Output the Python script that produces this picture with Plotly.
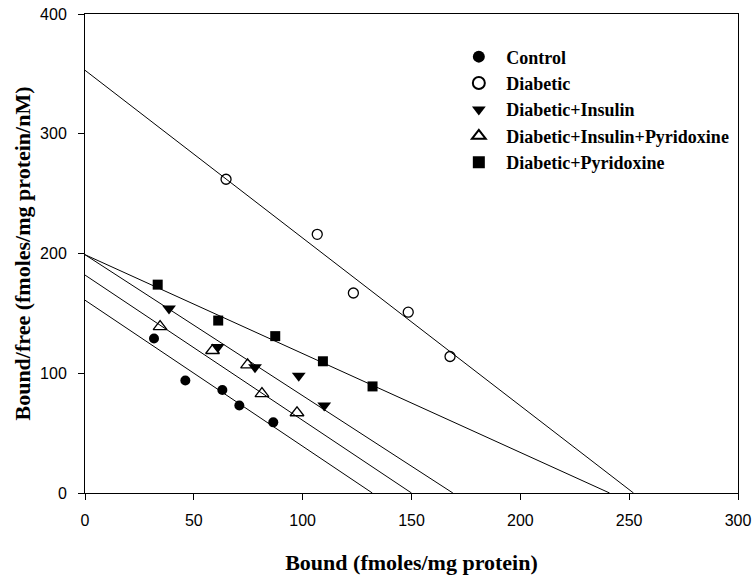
import plotly.graph_objects as go

# Scatchard data: bound (x) vs bound/free (y) for each group
control_x = [31.7, 46.1, 63.1, 70.9, 86.5]
control_y = [129, 94, 86, 73, 59]

diabetic_x = [64.8, 106.7, 123.3, 148.5, 167.7]
diabetic_y = [262, 216, 167, 151, 114]

insulin_x = [38.6, 61.0, 78.1, 98.2, 109.9]
insulin_y = [154, 122, 105, 98, 73]

ins_pyr_x = [34.5, 58.6, 74.7, 81.3, 97.4]
ins_pyr_y = [139, 119, 107, 83, 67]

pyr_x = [33.4, 61.2, 87.4, 109.3, 132.1]
pyr_y = [174, 144, 131, 110, 89]

# Regression lines: y-intercept (Bmax/Kd) and x-intercept (Bmax)
fit_y0 = {"Control": 161, "Diabetic": 353, "Diabetic+Insulin": 199,
          "Diabetic+Insulin+Pyridoxine": 182, "Diabetic+Pyridoxine": 199}
fit_bmax = {"Control": 132, "Diabetic": 252, "Diabetic+Insulin": 169,
            "Diabetic+Insulin+Pyridoxine": 150, "Diabetic+Pyridoxine": 241}

groups = [
    ("Control", control_x, control_y, dict(symbol="circle", size=10, color="black")),
    ("Diabetic", diabetic_x, diabetic_y,
     dict(symbol="circle-open", size=10, color="black", line=dict(width=1.3, color="black"))),
    ("Diabetic+Insulin", insulin_x, insulin_y, dict(symbol="triangle-down", size=12, color="black")),
    ("Diabetic+Insulin+Pyridoxine", ins_pyr_x, ins_pyr_y,
     dict(symbol="triangle-up-open", size=12, color="black", line=dict(width=1.3, color="black"))),
    ("Diabetic+Pyridoxine", pyr_x, pyr_y, dict(symbol="square", size=10, color="black")),
]

fig = go.Figure()

for name, xs, ys, mk in groups:
    fig.add_trace(go.Scatter(
        x=[0, fit_bmax[name]], y=[fit_y0[name], 0], mode="lines",
        line=dict(color="black", width=1), showlegend=False, hoverinfo="skip"))

for name, xs, ys, mk in groups:
    fig.add_trace(go.Scatter(x=xs, y=ys, mode="markers", name=name, marker=mk,
                             cliponaxis=False))

title_font = dict(family="Liberation Serif, Times New Roman", size=22,
                  color="black", weight="bold")

axis_common = dict(
    showline=True, linecolor="black", linewidth=1, mirror=True,
    ticks="outside", ticklen=6, tickcolor="black", tickwidth=1,
    showgrid=False, zeroline=False, automargin=False,
    tickfont=dict(family="Liberation Sans, Arial", size=16, color="black"),
)

fig.update_xaxes(range=[0, 300], dtick=50, ticklabelstandoff=7,
                 title=dict(text="Bound (fmoles/mg protein)", font=title_font, standoff=29),
                 **axis_common)
fig.update_yaxes(range=[0, 400], dtick=100, ticklabelstandoff=8,
                 title=dict(text="Bound/free (fmoles/mg protein/nM)", font=title_font,
                            standoff=3),
                 **axis_common)

fig.update_layout(
    width=756, height=575,
    margin=dict(l=85, r=18, t=14, b=82),
    paper_bgcolor="white", plot_bgcolor="white",
    legend=dict(x=0.561, y=0.949, xanchor="left", yanchor="top",
                bgcolor="rgba(0,0,0,0)", borderwidth=0,
                font=dict(family="Liberation Serif, Times New Roman", size=18,
                          color="black", weight="bold"),
                itemwidth=45, tracegroupgap=0, itemsizing="constant"),
    showlegend=True,
)

fig.write_html("out.html")
